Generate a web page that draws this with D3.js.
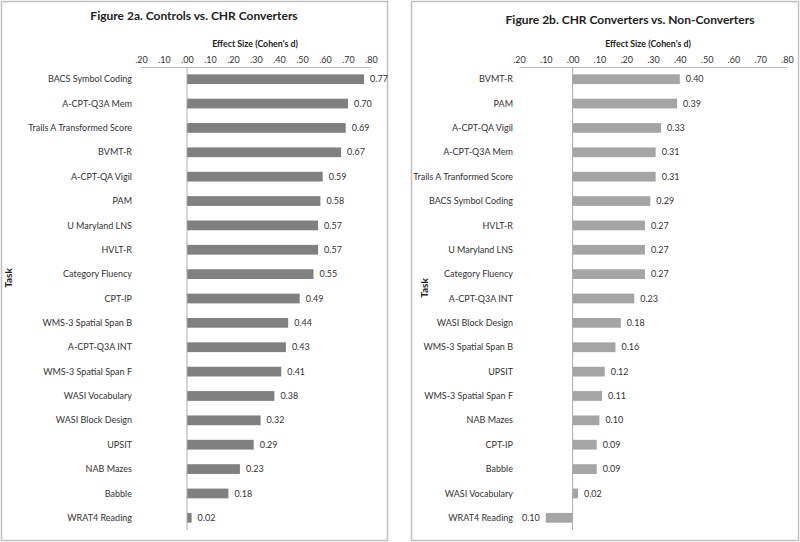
<!DOCTYPE html>
<html><head><meta charset="utf-8">
<script src="https://cdn.jsdelivr.net/npm/d3@7"></script>
<style>body{margin:0;background:#fff}svg{display:block;font-family:Lato,"Open Sans",sans-serif}</style>
</head><body><svg id="c" width="800" height="542"></svg>
<script>
const tasksA = ["BACS Symbol Coding","A-CPT-Q3A Mem","Trails A Transformed Score","BVMT-R","A-CPT-QA Vigil ","PAM","U Maryland LNS","HVLT-R","Category Fluency","CPT-IP","WMS-3 Spatial Span B","A-CPT-Q3A INT","WMS-3 Spatial Span F","WASI Vocabulary","WASI Block Design","UPSIT","NAB Mazes","Babble","WRAT4 Reading"];
const valuesA = [0.77,0.70,0.69,0.67,0.59,0.58,0.57,0.57,0.55,0.49,0.44,0.43,0.41,0.38,0.32,0.29,0.23,0.18,0.02];
const tasksB = ["BVMT-R","PAM","A-CPT-QA Vigil ","A-CPT-Q3A Mem","Trails A Tranformed Score","BACS Symbol Coding","HVLT-R","U Maryland LNS","Category Fluency","A-CPT-Q3A INT","WASI Block Design","WMS-3 Spatial Span B","UPSIT","WMS-3 Spatial Span F","NAB Mazes","CPT-IP","Babble","WASI Vocabulary","WRAT4 Reading"];
const valuesB = [0.40,0.39,0.33,0.31,0.31,0.29,0.27,0.27,0.27,0.23,0.18,0.16,0.12,0.11,0.10,0.09,0.09,0.02,-0.10];
const tickValues = [-0.2,-0.1,0,0.1,0.2,0.3,0.4,0.5,0.6,0.7,0.8];
const titles = ["Figure 2a. Controls vs. CHR Converters","Figure 2b. CHR Converters vs. Non-Converters"];
const axisTitle = "Effect Size (Cohen's d)";
const yTitle = "Task";

const svg = d3.select("#c");
const panels = [
  {box:[1.5,1.5,386,539], x0:141, x1:371, labelX:132, tasks:tasksA, values:valuesA, title:titles[0], titleX:194, titleY:20, axX:255, color:"#808080", taskX:12, taskY:278},
  {box:[411.5,1.5,387,539], x0:519, x1:787, labelX:513, tasks:tasksB, values:valuesB, title:titles[1], titleX:630, titleY:24, axX:648, color:"#a5a5a5", taskX:428, taskY:288}
];
const fmt = v => d3.format(".2f")(Math.abs(v));
const tickFmt = v => d3.format(".2f")(Math.abs(v)).replace(/^0/,"");

panels.forEach(p => {
  const g = svg.append("g");
  g.append("rect").attr("x",p.box[0]).attr("y",p.box[1]).attr("width",p.box[2]).attr("height",p.box[3])
    .attr("fill","#fff").attr("stroke","#c0c0c0").attr("stroke-width",1.5);
  const x = d3.scaleLinear().domain([-0.2,0.8]).range([p.x0,p.x1]);
  const y = d3.scaleBand().domain(p.tasks).range([67,530]).paddingInner(0.6).paddingOuter(0.3);
  g.append("text").attr("x",p.titleX).attr("y",p.titleY).attr("text-anchor","middle")
    .attr("font-weight","bold").attr("font-size",12).attr("fill","#222").text(p.title);
  g.append("text").attr("x",p.axX).attr("y",47).attr("text-anchor","middle")
    .attr("font-weight","bold").attr("font-size",8.8).attr("fill","#222").text(axisTitle);
  const ax = g.append("g").attr("transform","translate(0,67)")
    .call(d3.axisTop(x).tickValues(tickValues).tickFormat(tickFmt).tickSize(0).tickPadding(4));
  ax.select(".domain").attr("stroke","#bbb");
  ax.selectAll("text").attr("font-size",9).attr("fill","#333").attr("font-family","Lato,sans-serif");
  g.append("text").attr("transform",`translate(${p.taskX},${p.taskY}) rotate(-90)`).attr("text-anchor","middle")
    .attr("font-weight","bold").attr("font-size",10).attr("fill","#222").text(yTitle);
  const data = p.tasks.map((t,i)=>({t, v:p.values[i]}));
  g.selectAll(".bar").data(data).join("rect")
    .attr("x",d=>x(Math.min(0,d.v))).attr("y",d=>y(d.t))
    .attr("width",d=>Math.abs(x(d.v)-x(0))).attr("height",y.bandwidth())
    .attr("fill",p.color);
  g.append("line").attr("x1",x(0)).attr("x2",x(0)).attr("y1",67).attr("y2",530).attr("stroke","#aaa");
  g.selectAll(".cat").data(data).join("text")
    .attr("x",p.labelX).attr("y",d=>y(d.t)+y.bandwidth()/2).attr("dy","0.35em")
    .attr("text-anchor","end").attr("font-size",9).attr("fill","#333").text(d=>d.t);
  g.selectAll(".val").data(data).join("text")
    .attr("x",d=>d.v>=0 ? x(d.v)+6 : x(d.v)-6).attr("y",d=>y(d.t)+y.bandwidth()/2).attr("dy","0.35em")
    .attr("text-anchor",d=>d.v>=0?"start":"end").attr("font-size",9).attr("fill","#333").text(d=>fmt(d.v));
});
</script></body></html>
